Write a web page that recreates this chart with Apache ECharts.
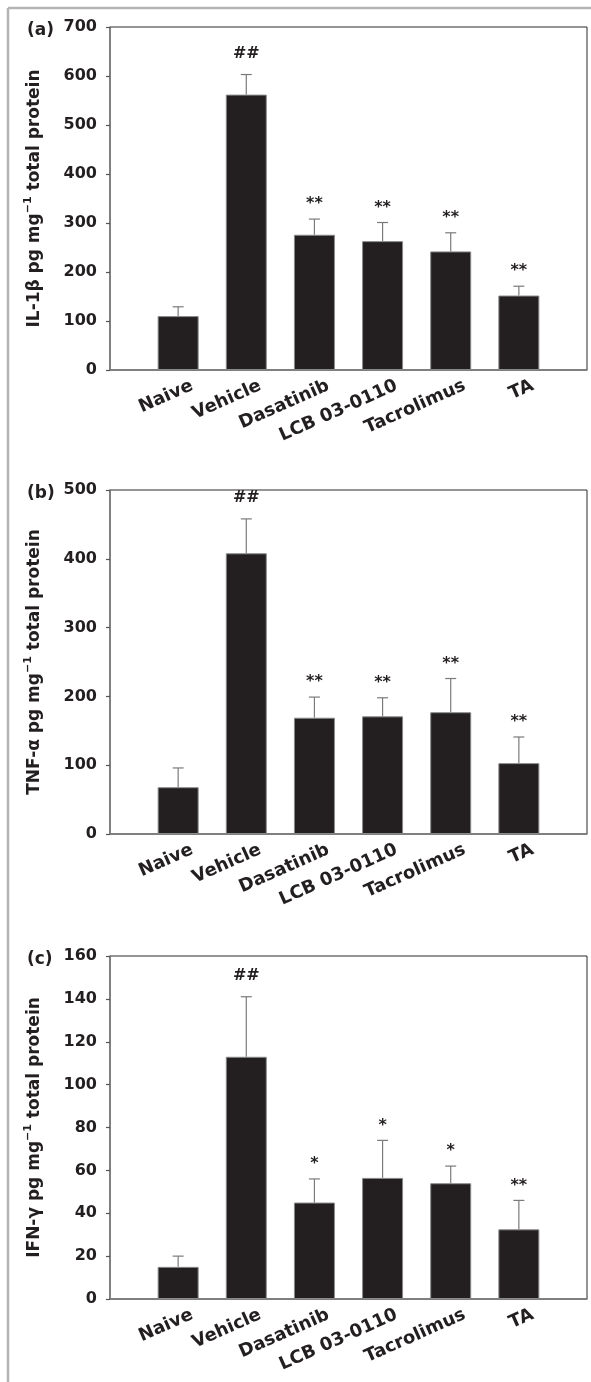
<!DOCTYPE html>
<html>
<head>
<meta charset="utf-8">
<script src="https://cdn.jsdelivr.net/npm/echarts@6/dist/echarts.min.js"></script>
<style>
html,body{margin:0;padding:0;background:#fff;}
#main{width:591px;height:1382px;}
</style>
</head>
<body>
<div id="main"></div>
<script>
// ---- data ----
const categories = ['Naive', 'Vehicle', 'Dasatinib', 'LCB 03-0110', 'Tacrolimus', 'TA'];

const il1bMean = [110, 562, 276, 263, 242, 152];
const il1bTop  = [129, 603, 308, 301, 280, 171];
const il1bSig  = ['', '##', '**', '**', '**', '**'];

const tnfMean = [68, 408, 169, 171, 177, 103];
const tnfTop  = [96, 458, 199, 198, 226, 141];
const tnfSig  = ['', '##', '**', '**', '**', '**'];

const ifnMean = [15, 113, 45, 56.5, 54, 32.5];
const ifnTop  = [20, 141, 56, 74, 62, 46];
const ifnSig  = ['', '##', '*', '*', '*', '**'];

const yTicksA = {min: 0, max: 700, interval: 100};
const yTicksB = {min: 0, max: 500, interval: 100};
const yTicksC = {min: 0, max: 160, interval: 20};

const panels = [
  {tag: '(a)', pre: 'IL-1β pg mg', mean: il1bMean, top: il1bTop, sig: il1bSig, ticks: yTicksA},
  {tag: '(b)', pre: 'TNF-α pg mg', mean: tnfMean, top: tnfTop, sig: tnfSig, ticks: yTicksB},
  {tag: '(c)', pre: 'IFN-γ pg mg', mean: ifnMean, top: ifnTop, sig: ifnSig, ticks: yTicksC}
];

// ---- layout ----
const gridTops = [27, 490, 956];
const gridH = [343, 344, 343];
const FONT = 'DejaVu Sans';
const DARK = '#231f20';
const GREY = '#7a7a7a';

const chart = echarts.init(document.getElementById('main'), null, {renderer: 'canvas'});

const grids = [], xAxes = [], yAxes = [], series = [], graphics = [];

panels.forEach((p, k) => {
  grids.push({left: 110, width: 477, top: gridTops[k], height: gridH[k],
    show: true, borderColor: '#2a2a2a', borderWidth: 1, backgroundColor: 'transparent'});
  xAxes.push({
    gridIndex: k, type: 'value', min: 0, max: 7, interval: 1,
    axisLine: {show: true, onZero: false, lineStyle: {color: GREY, width: 1.5}},
    axisTick: {show: false}, splitLine: {show: false},
    axisLabel: {
      rotate: 24, margin: 8, verticalAlign: 'top', padding: [3, -10, 0, 0],
      fontFamily: FONT, fontWeight: 'bold', fontSize: 18, color: DARK,
      formatter: v => categories[v - 1] || '',
      showMinLabel: false, showMaxLabel: false
    }
  });
  yAxes.push({
    gridIndex: k, type: 'value', min: p.ticks.min, max: p.ticks.max, interval: p.ticks.interval,
    axisLine: {show: true, lineStyle: {color: GREY, width: 1.5}},
    axisTick: {show: true, length: 4, inside: false, lineStyle: {color: '#555', width: 1.2}},
    splitLine: {show: false},
    axisLabel: {margin: 13, fontFamily: FONT, fontWeight: 'bold', fontSize: 16, color: DARK},
    name: '{a|' + p.pre + '}{s|−1}{a| total protein}',
    nameLocation: 'middle', nameGap: 67,
    nameTextStyle: {
      rich: {
        a: {fontFamily: FONT, fontWeight: 'bold', fontSize: 17, color: DARK, lineHeight: 20, verticalAlign: 'bottom'},
        s: {fontFamily: FONT, fontWeight: 'bold', fontSize: 11, color: DARK, lineHeight: 20, verticalAlign: 'top'}
      }
    }
  });
  series.push({
    type: 'bar', xAxisIndex: k, yAxisIndex: k, barWidth: 41,
    itemStyle: {color: DARK, borderColor: '#8a8a8a', borderWidth: 1},
    data: p.mean.map((v, i) => [i + 1, v]),
    silent: true, animation: false
  });
  series.push({
    type: 'custom', xAxisIndex: k, yAxisIndex: k, clip: false, z: 5,
    data: p.mean.map((v, i) => [i + 1, v, p.top[i]]),
    renderItem: (params, api) => {
      const x = api.value(0);
      const a = api.coord([x, api.value(1)]);
      const b = api.coord([x, api.value(2)]);
      const sig = p.sig[params.dataIndex];
      const isHash = sig.indexOf('#') >= 0;
      return {
        type: 'group',
        children: [
          {type: 'line', shape: {x1: a[0], y1: a[1], x2: b[0], y2: b[1]}, style: {stroke: GREY, lineWidth: 1.2}},
          {type: 'line', shape: {x1: b[0] - 5.5, y1: b[1], x2: b[0] + 5.5, y2: b[1]}, style: {stroke: GREY, lineWidth: 1.2}},
          {type: 'text', style: {
            text: sig, x: b[0], y: b[1] - (isHash ? 13 : 7),
            align: 'center', verticalAlign: 'bottom',
            fontFamily: FONT, fontWeight: 'bold', fontSize: 16, fill: DARK
          }}
        ]
      };
    },
    animation: false
  });
  graphics.push({
    type: 'text', left: 27, top: gridTops[k] - 5,
    style: {text: p.tag, fontFamily: FONT, fontWeight: 'bold', fontSize: 17, fill: DARK}
  });
});

// outer frame (top and left grey lines)
graphics.push({type: 'line', shape: {x1: 8, y1: 8, x2: 591, y2: 8}, style: {stroke: '#b4b4b4', lineWidth: 2.5}});
graphics.push({type: 'line', shape: {x1: 8, y1: 8, x2: 8, y2: 1382}, style: {stroke: '#b4b4b4', lineWidth: 2.5}});

chart.setOption({
  animation: false,
  grid: grids, xAxis: xAxes, yAxis: yAxes, series: series, graphic: graphics
});
</script>
</body>
</html>
